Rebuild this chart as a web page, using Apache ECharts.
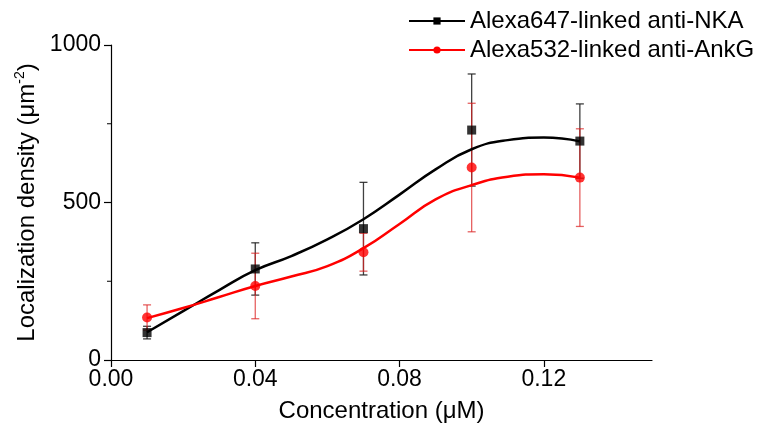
<!DOCTYPE html>
<html>
<head>
<meta charset="utf-8">
<script src="https://cdn.jsdelivr.net/npm/echarts@6/dist/echarts.min.js"></script>
<style>html,body{margin:0;padding:0;background:#fff}#c{width:758px;height:432px}</style>
</head>
<body>
<div id="c"></div>
<script>
// ---- data ----
const xPoints = [0.01, 0.04, 0.07, 0.10, 0.13];
const nkaValues = [87, 289, 417, 730, 695];
const nkaErrors = [20, 83, 147, 178, 118];
const ankgValues = [135, 235, 342, 611, 579];
const ankgErrors = [40, 104, 60, 204, 155];
// fitted curves
const fitX = [0.01, 0.02, 0.03, 0.04, 0.05, 0.06, 0.07, 0.08, 0.09, 0.10, 0.11, 0.12, 0.13];
const nkaFit = [88, 155, 222, 285, 330, 383, 447, 525, 605, 669, 698, 706, 694];
const ankgFit = [133, 165, 200, 235, 265, 298, 355, 432, 510, 555, 582, 590, 579];
const xTicks = [0, 0.04, 0.08, 0.12];
const yTicks = [0, 500, 1000];
const yMinorTicks = [250, 750];
const nkaName = 'Alexa647-linked anti-NKA';
const ankgName = 'Alexa532-linked anti-AnkG';

const FONT = 'Liberation Sans, Arial, sans-serif';
const zip = (a, b) => a.map((v, i) => [v, b[i]]);
const zip3 = (a, b, c) => a.map((v, i) => [v, b[i], c[i]]);

function errRender(color) {
  return function (params, api) {
    const x = api.value(0), y = api.value(1), e = api.value(2);
    const top = api.coord([x, y + e]);
    const bot = api.coord([x, y - e]);
    const cw = 4;
    const style = { stroke: color, lineWidth: 1.3 };
    return {
      type: 'group',
      children: [
        { type: 'line', shape: { x1: top[0], y1: top[1], x2: bot[0], y2: bot[1] }, style },
        { type: 'line', shape: { x1: top[0] - cw, y1: top[1], x2: top[0] + cw, y2: top[1] }, style },
        { type: 'line', shape: { x1: bot[0] - cw, y1: bot[1], x2: bot[0] + cw, y2: bot[1] }, style }
      ]
    };
  };
}

function minorTickRender(params, api) {
  const p = api.coord([0, api.value(0)]);
  return { type: 'line', shape: { x1: p[0] - 4, y1: p[1], x2: p[0], y2: p[1] },
    style: { stroke: '#000', lineWidth: 1 } };
}

const chart = echarts.init(document.getElementById('c'), null, { renderer: 'canvas' });
chart.setOption({
  animation: false,
  backgroundColor: '#fff',
  textStyle: { fontFamily: FONT },
  grid: { left: 111, right: 106, top: 45, bottom: 72, containLabel: false },
  legend: {
    orient: 'vertical',
    left: 403,
    top: 4,
    itemWidth: 56,
    itemHeight: 9,
    itemGap: 5,
    textStyle: { fontFamily: FONT, fontSize: 24, color: '#000' },
    data: [nkaName, ankgName]
  },
  xAxis: {
    type: 'value',
    min: 0,
    max: 0.15,
    interval: 0.04,
    name: 'Concentration (μM)',
    nameLocation: 'middle',
    nameGap: 39,
    nameTextStyle: { fontFamily: FONT, fontSize: 24, color: '#000' },
    axisLine: { show: true, onZero: false, lineStyle: { color: '#000', width: 1.2 } },
    axisTick: { show: true, length: 7, customValues: xTicks, lineStyle: { color: '#000', width: 1.2 } },
    axisLabel: { customValues: xTicks, fontFamily: FONT, fontSize: 23, color: '#000', margin: 8,
      formatter: v => v.toFixed(2) },
    splitLine: { show: false }
  },
  yAxis: {
    type: 'value',
    min: 0,
    max: 1000,
    interval: 500,
    name: '{a|Localization density (μm}{s|-2}{a|)}',
    nameLocation: 'middle',
    nameGap: 64,
    nameTextStyle: {
      rich: {
        a: { fontFamily: FONT, fontSize: 24, color: '#000', lineHeight: 28 },
        s: { fontFamily: FONT, fontSize: 14, color: '#000', lineHeight: 15, verticalAlign: 'top' }
      }
    },
    axisLine: { show: true, lineStyle: { color: '#000', width: 1.2 } },
    axisTick: { show: true, length: 7, customValues: yTicks, lineStyle: { color: '#000', width: 1.2 } },
    axisLabel: { customValues: yTicks, fontFamily: FONT, fontSize: 23, color: '#000', margin: 10,
      formatter: v => String(v) },
    splitLine: { show: false }
  },
  series: [
    {
      type: 'custom', renderItem: minorTickRender, data: yMinorTicks.map(v => [v]),
      encode: { y: 0 }, silent: true, clip: false, z: 1
    },
    {
      name: nkaName, type: 'line', data: zip(fitX, nkaFit), smooth: 0.5,
      symbol: 'rect', symbolSize: 9, showSymbol: false,
      itemStyle: { color: '#000' }, lineStyle: { color: '#000', width: 2.5 }, z: 3
    },
    {
      name: ankgName, type: 'line', data: zip(fitX, ankgFit), smooth: 0.5,
      symbol: 'circle', symbolSize: 9, showSymbol: false,
      itemStyle: { color: '#f00' }, lineStyle: { color: '#f00', width: 2.5 }, z: 3
    },
    {
      name: nkaName, type: 'custom', renderItem: errRender('rgba(30,30,30,0.85)'),
      data: zip3(xPoints, nkaValues, nkaErrors), encode: { x: 0, y: 1 }, z: 2
    },
    {
      name: ankgName, type: 'custom', renderItem: errRender('rgba(220,30,30,0.7)'),
      data: zip3(xPoints, ankgValues, ankgErrors), encode: { x: 0, y: 1 }, z: 2
    },
    {
      name: nkaName, type: 'scatter', data: zip(xPoints, nkaValues),
      symbol: 'rect', symbolSize: 9, itemStyle: { color: '#000' }, z: 4
    },
    {
      name: ankgName, type: 'scatter', data: zip(xPoints, ankgValues),
      symbol: 'circle', symbolSize: 10, itemStyle: { color: '#f00' }, z: 4
    }
  ]
});
</script>
</body>
</html>
